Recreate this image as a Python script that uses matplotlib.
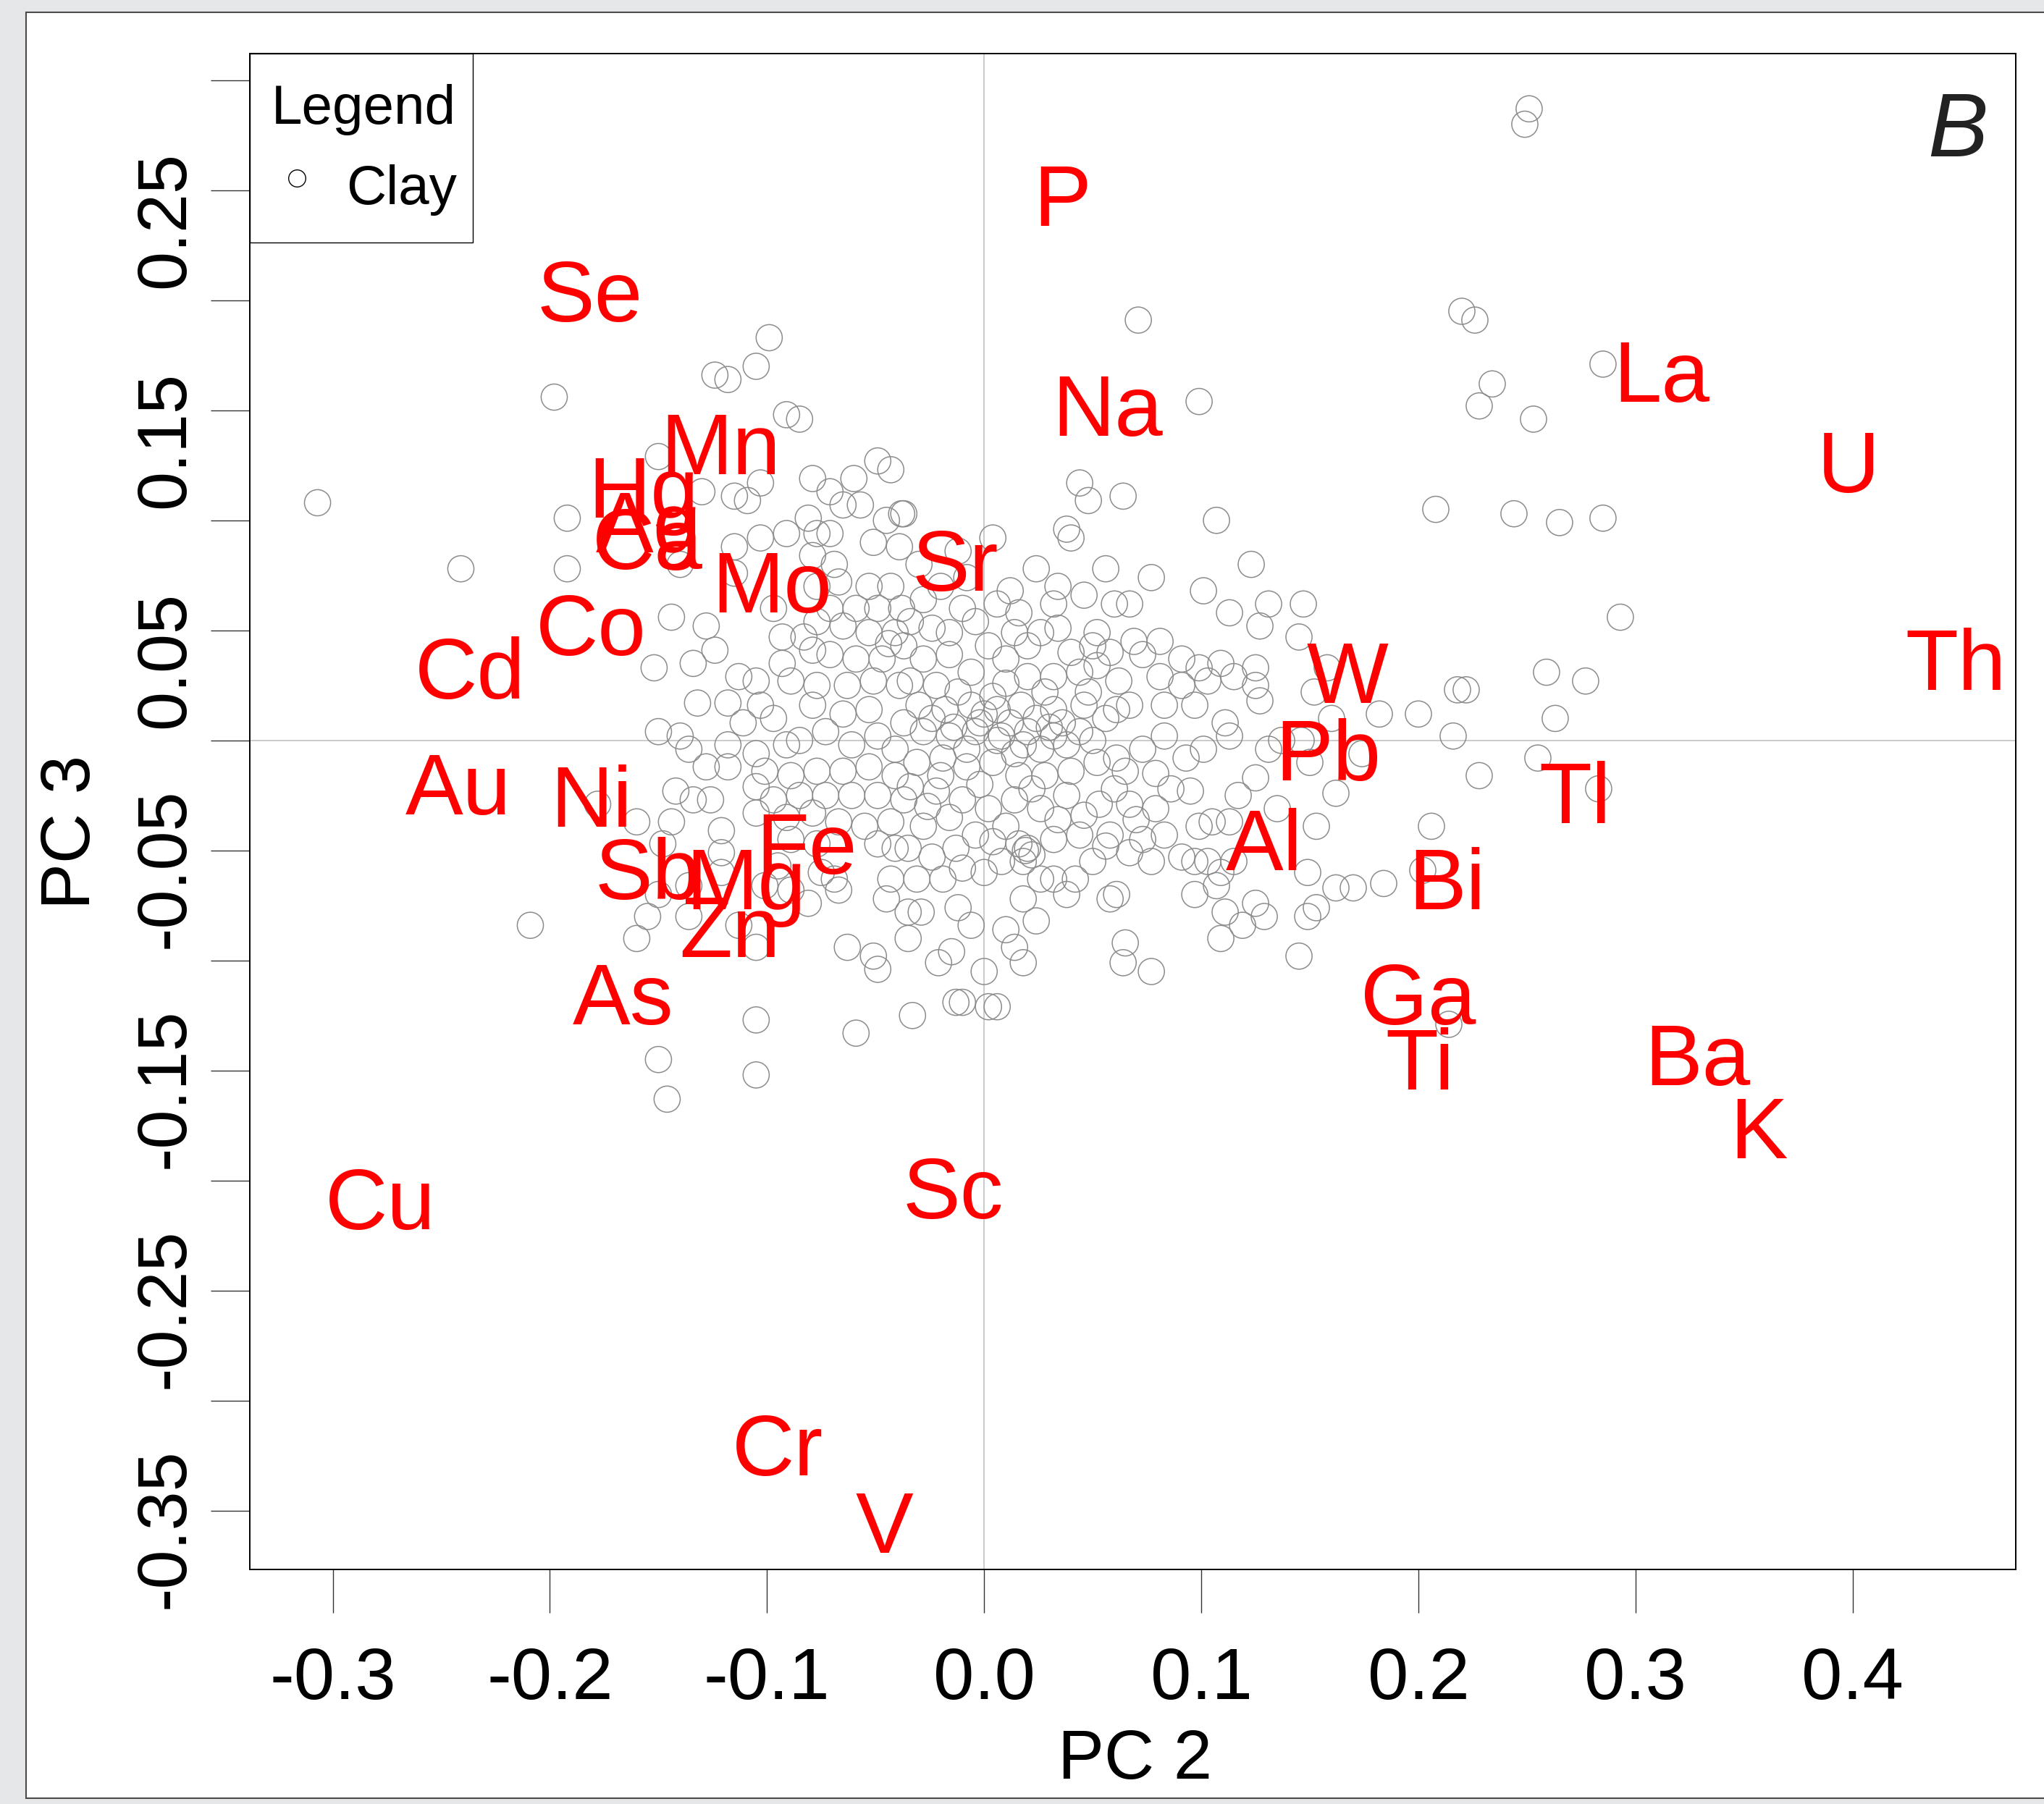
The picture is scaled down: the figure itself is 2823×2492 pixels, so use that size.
import numpy as np
import matplotlib
matplotlib.use("Agg")
import matplotlib.pyplot as plt
import matplotlib.transforms as mtransforms
from matplotlib.patches import Rectangle

plt.rcParams['font.family'] = ['Liberation Sans', 'DejaVu Sans']

# --- sample scores (PC2, PC3) ---
sparse_pc2 = [0.251, 0.249, 0.071, 0.099, 0.220, 0.226, 0.285, 0.234, 0.228, 0.253,
              0.208, 0.244, 0.265, 0.285, 0.293, 0.259, 0.277, 0.218, 0.222, 0.263,
              0.182, 0.200, 0.216, 0.255, 0.228, 0.283, 0.206, 0.202, 0.184, 0.170,
              0.162, 0.214, 0.145, 0.153, 0.149, 0.149, 0.153, 0.162, 0.150, 0.174,
              0.146, 0.160, 0.158, 0.152, 0.145, 0.147, -0.307, -0.241, -0.198, -0.192,
              -0.192, -0.209, -0.150, -0.146, -0.150, -0.105, -0.105, -0.059, -0.033, -0.013,
              -0.010, 0.002, 0.006, 0.000, -0.049, -0.051, -0.063, -0.105, -0.113, -0.160,
              -0.155, -0.136, -0.178, -0.099, -0.105, -0.124, -0.118, -0.091, -0.085, 0.044,
              0.048, 0.064, 0.107, 0.038, 0.040, 0.123, 0.077, 0.056, 0.101, 0.113,
              0.131, 0.127, 0.064, 0.065, 0.077, 0.018, 0.014, -0.021, -0.015, 0.109,
              0.111, 0.119, 0.129, 0.125, -0.035]
sparse_pc3 = [0.287, 0.280, 0.191, 0.154, 0.195, 0.191, 0.171, 0.162, 0.152, 0.146,
              0.105, 0.103, 0.099, 0.101, 0.056, 0.031, 0.027, 0.023, 0.023, 0.010,
              0.012, 0.012, 0.002, -0.008, -0.016, -0.022, -0.039, -0.059, -0.065, -0.067,
              -0.067, -0.129, -0.098, -0.076, -0.080, -0.060, -0.039, -0.024, -0.010, -0.006,
              0.000, 0.010, 0.033, 0.022, 0.047, 0.062, 0.108, 0.078, 0.156, 0.101,
              0.078, -0.084, 0.129, -0.163, -0.145, -0.152, -0.127, -0.133, -0.125, -0.119,
              -0.119, -0.121, -0.121, -0.105, -0.104, -0.098, -0.094, -0.094, -0.084, -0.090,
              -0.080, -0.080, -0.029, 0.183, 0.170, 0.166, 0.164, 0.148, 0.146, 0.117,
              0.109, 0.111, 0.100, 0.096, 0.092, 0.080, 0.074, 0.078, 0.068, 0.058,
              0.062, 0.052, -0.101, -0.092, -0.105, -0.101, -0.094, -0.101, -0.096, -0.090,
              -0.078, -0.084, -0.080, -0.074, -0.090]

upleft_pc2 = [-0.049, -0.043, -0.079, -0.060, -0.103, -0.130, -0.115, -0.109, -0.071, -0.065,
              -0.057, -0.038, -0.081, -0.045, -0.091, -0.103, -0.077, -0.071, -0.115, -0.051,
              -0.039, -0.079, -0.069, -0.140, -0.115, -0.077, -0.067, -0.053, -0.043, -0.097,
              -0.071, -0.059, -0.049, -0.038, -0.144, -0.128, -0.077, -0.065, -0.093, -0.083,
              -0.053, -0.041, -0.124, -0.134, -0.152, -0.093, -0.079, -0.071, -0.059, -0.047,
              -0.113, -0.105, -0.089, -0.077, -0.063, -0.051, -0.039]
upleft_pc3 = [0.127, 0.123, 0.119, 0.119, 0.117, 0.113, 0.111, 0.109, 0.113, 0.107,
              0.107, 0.103, 0.101, 0.100, 0.094, 0.092, 0.094, 0.094, 0.088, 0.090,
              0.088, 0.084, 0.080, 0.080, 0.076, 0.070, 0.072, 0.070, 0.070, 0.060,
              0.060, 0.060, 0.060, 0.060, 0.056, 0.052, 0.054, 0.052, 0.047, 0.047,
              0.049, 0.049, 0.041, 0.035, 0.033, 0.035, 0.041, 0.039, 0.037, 0.037,
              0.029, 0.027, 0.027, 0.025, 0.025, 0.027, 0.025]

upmid_pc2 = [0.004, -0.037, 0.034, 0.046, 0.032, 0.060, 0.067, 0.006, -0.008, -0.028,
             0.052, 0.034, 0.069, 0.081, 0.073, 0.091, 0.099, 0.109, 0.125, 0.081,
             0.103, 0.115, 0.050, 0.044, 0.026, 0.014, 0.020, 0.010, 0.002, -0.010,
             -0.004, -0.016, -0.024, -0.034, -0.037, -0.028, -0.016, -0.006, 0.020, 0.032,
             0.062, 0.091, 0.125, -0.034, -0.022]
upmid_pc3 = [0.092, 0.103, 0.070, 0.066, 0.062, 0.062, 0.062, 0.062, 0.074, 0.064,
             0.049, 0.051, 0.045, 0.045, 0.039, 0.037, 0.033, 0.035, 0.033, 0.029,
             0.027, 0.029, 0.043, 0.031, 0.049, 0.049, 0.043, 0.037, 0.043, 0.060,
             0.054, 0.049, 0.051, 0.054, 0.043, 0.037, 0.039, 0.031, 0.029, 0.029,
             0.027, 0.025, 0.025, 0.027, 0.025]

lowmid_pc2 = [0.097, 0.107, 0.097, 0.103, 0.091, 0.115, 0.109, 0.099, 0.105, 0.113,
              0.117, 0.125, 0.135, 0.131, 0.137, 0.101, 0.093, 0.111, 0.113, 0.083,
              0.097, 0.083, 0.127, 0.095, 0.083, 0.079, 0.065, 0.077, 0.067, 0.056,
              0.050, 0.042, 0.032, 0.026, 0.018, 0.020, 0.008, 0.000, -0.010, -0.019,
              -0.031, -0.024, -0.013, -0.004, -0.035, -0.028, -0.016, 0.010, 0.032, 0.044,
              0.058, 0.073, 0.079, 0.067, 0.053, 0.038, 0.026, 0.014, 0.002, -0.010,
              -0.022, -0.034, -0.031, -0.019, -0.008, 0.004, 0.016, 0.028, 0.040, 0.052,
              0.061, 0.073, 0.044, 0.032, 0.020, 0.008, -0.004, -0.016, -0.028, 0.056,
              0.061, 0.067, 0.046, 0.032, 0.017, 0.006, -0.006, -0.018, -0.030, 0.019,
              0.016, 0.022, -0.029, -0.012, 0.018, 0.038, 0.058, 0.061, 0.010, 0.024,
              -0.006]
lowmid_pc3 = [-0.070, -0.066, -0.055, -0.055, -0.053, -0.055, -0.060, -0.039, -0.037, -0.037,
              -0.025, -0.017, -0.031, -0.004, 0.000, -0.004, -0.008, 0.008, 0.002, 0.002,
              0.016, 0.016, 0.018, -0.023, -0.043, -0.015, -0.014, -0.055, -0.051, -0.048,
              -0.055, -0.063, -0.063, -0.063, -0.055, -0.049, -0.055, -0.060, -0.058, -0.063,
              -0.063, -0.053, -0.049, -0.043, -0.049, -0.039, -0.035, -0.039, -0.045, -0.043,
              -0.043, -0.045, -0.031, -0.029, -0.029, -0.025, -0.031, -0.027, -0.031, -0.027,
              -0.023, -0.021, -0.010, -0.008, -0.012, -0.010, -0.016, -0.016, -0.014, -0.010,
              -0.008, -0.004, 0.004, 0.002, 0.004, 0.002, 0.004, 0.002, 0.004, 0.010,
              0.014, 0.016, 0.016, 0.014, 0.016, 0.014, 0.016, 0.014, 0.016, -0.050,
              -0.047, -0.052, -0.078, -0.076, -0.072, -0.070, -0.072, -0.070, -0.086, -0.082,
              -0.084]

lowleft_pc2 = [-0.150, -0.148, -0.160, -0.144, -0.142, -0.134, -0.126, -0.150, -0.140, -0.136,
               -0.128, -0.121, -0.121, -0.132, -0.118, -0.103, -0.097, -0.111, -0.118, -0.118,
               -0.105, -0.091, -0.085, -0.079, -0.065, -0.053, -0.073, -0.061, -0.049, -0.037,
               -0.041, -0.101, -0.105, -0.089, -0.077, -0.065, -0.053, -0.041, -0.097, -0.085,
               -0.073, -0.061, -0.049, -0.037, -0.105, -0.091, -0.079, -0.067, -0.055, -0.043,
               -0.089, -0.077, -0.049, -0.041, -0.069, -0.067, -0.081, -0.089, -0.043, -0.045,
               -0.035, -0.136, -0.121, -0.101, -0.095, -0.075]
lowleft_pc3 = [-0.070, -0.047, -0.037, -0.037, -0.023, -0.027, -0.027, 0.004, 0.002, -0.004,
               -0.012, -0.041, -0.051, 0.017, 0.017, 0.016, 0.010, 0.008, -0.002, -0.012,
               -0.006, -0.002, 0.000, 0.016, 0.012, 0.014, 0.004, -0.002, 0.002, 0.008,
               -0.004, -0.014, -0.021, -0.016, -0.014, -0.014, -0.012, -0.016, -0.027, -0.025,
               -0.025, -0.025, -0.025, -0.027, -0.033, -0.035, -0.033, -0.037, -0.039, -0.037,
               -0.045, -0.047, -0.047, -0.049, -0.063, -0.068, -0.074, -0.068, -0.063, -0.072,
               -0.078, -0.066, -0.060, -0.066, -0.057, -0.060]

core_pc2 = [-0.002, 0.004, 0.012, 0.024, 0.036, 0.048, -0.012, -0.024, 0.010, 0.028,
            -0.008, 0.014, 0.026, 0.038, 0.050, -0.020, -0.002, 0.022, 0.034, 0.046,
            0.004, -0.026, 0.060, 0.070, 0.086, 0.006, 0.018, 0.030, -0.014, 0.000,
            0.052, 0.040, 0.058, 0.016, -0.020, -0.030, -0.012, 0.024, 0.012, -0.044]
core_pc3 = [0.008, 0.020, 0.008, 0.010, 0.008, 0.022, 0.022, 0.010, 0.026, 0.022,
            -0.004, -0.006, -0.004, -0.002, 0.000, -0.016, -0.020, -0.022, -0.036, -0.034,
            -0.046, -0.030, -0.022, -0.036, -0.022, 0.000, -0.002, 0.006, 0.006, 0.012,
            0.034, 0.040, 0.040, 0.058, 0.070, 0.080, 0.086, 0.078, 0.068, 0.044]

# --- variable loadings (label positions) ---
elements = ['P', 'Se', 'Na', 'La', 'U', 'Mn', 'Hg', 'Ag', 'Ca', 'Mo', 'Sr', 'Co',
            'Cd', 'Th', 'W', 'Pb', 'Au', 'Ni', 'Tl', 'Fe', 'Al', 'Sb', 'Mg', 'Bi',
            'Zn', 'As', 'Ga', 'Ti', 'Ba', 'K', 'Sc', 'Cu', 'Cr', 'V']
load_pc2 = [0.0359, -0.1817, 0.0569, 0.312, 0.398, -0.1215, -0.157, -0.1545, -0.155,
            -0.0977, -0.0134, -0.181, -0.2368, 0.4474, 0.1674, 0.1583, -0.2421, -0.181,
            0.2722, -0.0818, 0.129, -0.1548, -0.1098, 0.2132, -0.117, -0.1664, 0.200,
            0.2006, 0.3286, 0.3567, -0.0144, -0.278, -0.095, -0.046]
load_pc3 = [0.248, 0.2047, 0.1525, 0.168, 0.127, 0.135, 0.1153, 0.0995, 0.092,
            0.0722, 0.0821, 0.0528, 0.0331, 0.037, 0.0311, -0.0041, -0.0196, -0.0252,
            -0.0235, -0.0465, -0.0448, -0.058, -0.0626, -0.0626, -0.0844, -0.115, -0.115,
            -0.1444, -0.1425, -0.1758, -0.203, -0.208, -0.3197, -0.355]

x_ticks = [-0.3, -0.2, -0.1, 0.0, 0.1, 0.2, 0.3, 0.4]
x_ticklabels = ['-0.3', '-0.2', '-0.1', '0.0', '0.1', '0.2', '0.3', '0.4']
y_ticks = [0.3, 0.25, 0.2, 0.15, 0.1, 0.05, 0.0, -0.05, -0.1, -0.15, -0.2, -0.25, -0.3, -0.35]
y_ticklabels = ['', '0.25', '', '0.15', '', '0.05', '', '-0.05', '', '-0.15', '', '-0.25', '', '-0.35']

pc2 = np.concatenate([sparse_pc2, upleft_pc2, upmid_pc2, lowmid_pc2, lowleft_pc2, core_pc2])
pc3 = np.concatenate([sparse_pc3, upleft_pc3, upmid_pc3, lowmid_pc3, lowleft_pc3, core_pc3])

W, H = 2823, 2492
fig = plt.figure(figsize=(W / 100, H / 100), dpi=100, facecolor='#e6e7e9')
# white panel behind the plot
fig.patches.append(Rectangle((36 / W, 1 - 2484 / H), 1.0, (2484 - 17) / H,
                             transform=fig.transFigure, facecolor='white',
                             edgecolor='#4a4a4a', linewidth=1.5, zorder=-1))

left, right, top, bottom = 345, 2784, 74, 2168
ax = fig.add_axes([left / W, 1 - bottom / H, (right - left) / W, (bottom - top) / H])
ax.set_facecolor('white')

ax.axvline(0, color='#bdbdbd', lw=1.1, zorder=1)
ax.axhline(0, color='#bdbdbd', lw=1.1, zorder=1)

ax.scatter(pc2, pc3, s=26 ** 2, facecolors='none', edgecolors='#8c8c8c',
           linewidths=1.1, zorder=2, label='Clay')

for name, x, y in zip(elements, load_pc2, load_pc3):
    ax.text(x, y, name, color='#ff0000', fontsize=86, ha='center',
            va='center_baseline', zorder=4)

ax.set_xlim(-0.3382, 0.4751)
ax.set_ylim(-0.3767, 0.3121)

ax.set_xticks(x_ticks)
ax.set_xticklabels(x_ticklabels, fontsize=73)
ax.set_yticks(y_ticks)
ax.set_yticklabels([])
ax.tick_params(axis='x', length=43, width=1.0, color='#333333', pad=33)
ax.tick_params(axis='y', length=39, width=1.0, color='#333333')

# y labels: rotated, each string starting a fixed distance below its tick
ylab_trans = (mtransforms.blended_transform_factory(ax.transAxes, ax.transData)
              + mtransforms.ScaledTranslation(0, -1.35, fig.dpi_scale_trans))
for yv, lab in zip(y_ticks, y_ticklabels):
    if lab:
        ax.text(-0.0373, yv, lab, transform=ylab_trans, rotation=90,
                rotation_mode='anchor', ha='left', va='baseline',
                fontsize=70, clip_on=False)

for sp in ax.spines.values():
    sp.set_linewidth(1.4)
    sp.set_color('black')

ax.set_xlabel('PC 2', fontsize=69)
ax.xaxis.set_label_coords(0.5014, -0.1048)
ax.set_ylabel('PC 3', fontsize=69, va='center_baseline', ha='center')
ax.yaxis.set_label_coords(-0.1048, 0.4866)

ax.text(0.967, 0.9476, 'B', transform=ax.transAxes, fontsize=90, style='italic',
        ha='center', va='center', color='#222222', zorder=5)

# legend box in the top-left corner, R style
ax.add_patch(Rectangle((0, 0.8753), 0.1263, 0.1247, transform=ax.transAxes,
                       facecolor='white', edgecolor='black', linewidth=1.0,
                       zorder=6, clip_on=False))
ax.text(0.0644, 0.9670, 'Legend', transform=ax.transAxes, fontsize=55,
        ha='center', va='center_baseline', zorder=7)
ax.plot([0.02665], [0.9178], transform=ax.transAxes, ls='none', marker='o',
        ms=17, mfc='none', mec='black', mew=1.0, zorder=7, clip_on=False)
ax.text(0.0545, 0.9136, 'Clay', transform=ax.transAxes, fontsize=55,
        ha='left', va='center_baseline', zorder=7)

fig.savefig('out.png', dpi=100, facecolor=fig.get_facecolor())
